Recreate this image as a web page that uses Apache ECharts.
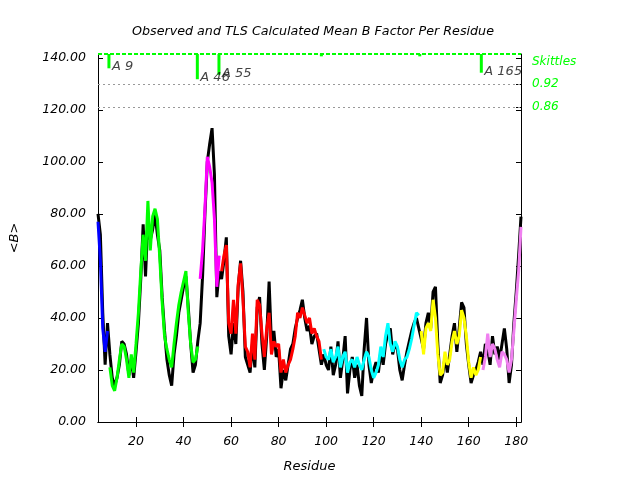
<!DOCTYPE html>
<html>
<head>
<meta charset="utf-8">
<script src="https://cdn.jsdelivr.net/npm/echarts@6/dist/echarts.min.js"></script>
<style>
  html, body { margin: 0; padding: 0; background: #fff; }
  #chart { width: 640px; height: 480px; }
</style>
</head>
<body>
<div id="chart"></div>
<script>
// residue numbers, 4..182
const residues = [
  4, 5, 6, 7, 8, 9,
  10, 11, 12, 13, 14, 15, 16, 17, 18, 19,
  20, 21, 22, 23, 24, 25, 26, 27, 28, 29,
  30, 31, 32, 33, 34, 35, 36, 37, 38, 39,
  40, 41, 42, 43, 44, 45, 46, 47, 48, 49,
  50, 51, 52, 53, 54, 55, 56, 57, 58, 59,
  60, 61, 62, 63, 64, 65, 66, 67, 68, 69,
  70, 71, 72, 73, 74, 75, 76, 77, 78, 79,
  80, 81, 82, 83, 84, 85, 86, 87, 88, 89,
  90, 91, 92, 93, 94, 95, 96, 97, 98, 99,
  100, 101, 102, 103, 104, 105, 106, 107, 108, 109,
  110, 111, 112, 113, 114, 115, 116, 117, 118, 119,
  120, 121, 122, 123, 124, 125, 126, 127, 128, 129,
  130, 131, 132, 133, 134, 135, 136, 137, 138, 139,
  140, 141, 142, 143, 144, 145, 146, 147, 148, 149,
  150, 151, 152, 153, 154, 155, 156, 157, 158, 159,
  160, 161, 162, 163, 164, 165, 166, 167, 168, 169,
  170, 171, 172, 173, 174, 175, 176, 177, 178, 179,
  180, 181, 182
];

// observed mean B (black)
const observed = [
  80, 72, 42, 22, 38, 26,
  17, 14, 17, 22, 31, 30, 26, 18, 24, 17,
  27, 38, 55, 76, 56, 78, 70, 74, 80, 72,
  66, 48, 35, 24, 18, 14, 26, 33, 42, 47,
  52, 56, 44, 30, 19, 22, 31, 38, 56, 80,
  100, 107, 113, 95, 48, 58, 55, 62, 71, 33,
  26, 38, 30, 52, 62, 50, 25, 22, 19, 30,
  21, 44, 48, 30, 20, 33, 54, 30, 35, 25,
  28, 13, 20, 16, 22, 28, 30, 36, 40, 43,
  47, 40, 35, 37, 30, 33, 34, 28, 22, 26,
  22, 20, 29, 18, 22, 31, 17, 24, 33, 11,
  20, 25, 17, 22, 14, 10, 28, 40, 22, 15,
  20, 23, 19, 27, 22, 30, 34, 36, 26, 30,
  28, 20, 16, 22, 27, 31, 35, 38, 40, 36,
  32, 28, 38, 42, 36, 50, 52, 30, 15, 18,
  25, 19, 26, 33, 38, 27, 36, 46, 44, 30,
  22, 15, 18, 20, 23, 27, 22, 30, 28, 22,
  33, 26, 29, 24, 30, 36, 28, 15, 22, 38,
  50, 64, 79
];

// TLS calculated mean B (coloured by segment)
const tlsCalc = [
  77, 62, 36, 27, 35, 21,
  14, 12, 17, 24, 30, 29, 24, 17, 26, 19,
  30, 42, 58, 72, 62, 85, 66, 79, 82, 78,
  63, 46, 33, 28, 24, 21, 30, 38, 45, 50,
  54, 58, 42, 30, 23, 24, 29, 55, 66, 82,
  102, 98, 92, 78, 52, 64, 58, 64, 68, 38,
  34, 47, 34, 53, 61, 47, 29, 27, 21, 34,
  24, 47, 45, 34, 25, 36, 42, 26, 31, 29,
  30, 19, 24, 19, 22, 24, 28, 33, 42, 40,
  44, 41, 38, 40, 34, 36, 33, 31, 24, 28,
  25, 24, 28, 23, 25, 29, 21, 25, 27, 19,
  23, 24, 21, 25, 22, 20, 24, 27, 25, 20,
  17, 19, 22, 29, 25, 33, 38, 30, 27, 31,
  29, 24, 21, 24, 25, 28, 32, 37, 42, 41,
  35, 26, 36, 38, 35, 47, 40, 26, 18, 19,
  27, 22, 24, 31, 35, 30, 33, 43, 40, 33,
  23, 17, 21, 18, 20, 25, 20, 25, 34, 25,
  30, 28, 24, 21, 27, 26, 24, 19, 24, 35,
  47, 58, 75
];

const segStart = [4, 9, 47, 56, 99, 140, 166];
const segEnd = [8, 46, 55, 98, 139, 165, 182];
const segColors = ['#0000ff', '#00ff00', '#ff00ff', '#ff0000', '#00ffff', '#ffff00', '#f080f0'];

const skittleRes = [8.6, 45.8, 54.9, 98.0, 139.4, 165.3];
const skittleBottom = [136.0, 131.8, 133.5, 140.6, 140.6, 134.3];
const skittleNames = ['A 9', 'A 46', 'A 55', '', '', 'A 165'];

const rightLabelVals = [138.6, 130.0, 121.0];
const rightLabelText = ['Skittles', '0.92', '0.86'];

const xTicks = [20, 40, 60, 80, 100, 120, 140, 160, 180];
const yTicks = [0, 20, 40, 60, 80, 100, 120, 140];
const xMin = 4, xMax = 182, yMin = 0, yMax = 141.5;

const chart = echarts.init(document.getElementById('chart'));

const font = { fontFamily: 'DejaVu Sans', fontStyle: 'italic', color: '#000' };

const segSeries = segStart.map((s, k) => ({
  type: 'line',
  z: 3,
  showSymbol: false,
  lineStyle: { color: segColors[k], width: 3 },
  data: residues
    .map((r, i) => [r, tlsCalc[i]])
    .filter(p => p[0] >= s && p[0] <= segEnd[k])
}));

const option = {
  animation: false,
  title: {
    text: 'Observed and TLS Calculated Mean B Factor Per Residue',
    left: 127,
    top: 20,
    textStyle: { ...font, fontSize: 12.7, fontWeight: 'normal' }
  },
  grid: { left: 95, right: 119, top: 54, bottom: 58 },
  xAxis: [{
    type: 'value',
    min: xMin,
    max: xMax,
    name: 'Residue',
    nameLocation: 'middle',
    nameGap: 38,
    nameTextStyle: { ...font, fontSize: 13 },
    axisLine: { lineStyle: { color: '#000', width: 1 } },
    axisTick: { inside: true, length: 5, customValues: xTicks, lineStyle: { color: '#000' } },
    axisLabel: { ...font, fontSize: 12.5, margin: 13, customValues: xTicks },
    splitLine: { show: false }
  }, {
    type: 'value',
    position: 'top',
    min: xMin,
    max: xMax,
    axisLine: { lineStyle: { color: '#000', width: 1 } },
    axisTick: { inside: true, length: 5, customValues: xTicks, lineStyle: { color: '#000' } },
    axisLabel: { show: false },
    splitLine: { show: false }
  }],
  yAxis: [{
    type: 'value',
    min: yMin,
    max: yMax,
    name: '<B>',
    nameLocation: 'middle',
    nameGap: 77,
    nameRotate: 90,
    nameTextStyle: { ...font, fontSize: 13 },
    axisLine: { show: true, lineStyle: { color: '#000', width: 1 } },
    axisTick: { show: true, inside: true, length: 5, customValues: yTicks, lineStyle: { color: '#000' } },
    axisLabel: { ...font, fontSize: 12.5, margin: 12, customValues: yTicks, formatter: v => v.toFixed(2) },
    splitLine: { show: false }
  }, {
    type: 'value',
    position: 'right',
    min: yMin,
    max: yMax,
    axisLine: { show: true, lineStyle: { color: '#000', width: 1 } },
    axisTick: { show: true, inside: true, length: 5, customValues: yTicks.concat(rightLabelVals.slice(1)), lineStyle: { color: '#000' } },
    axisLabel: {
      ...font, color: '#00ff00', fontSize: 12, margin: 11,
      customValues: rightLabelVals,
      formatter: v => rightLabelText[rightLabelVals.indexOf(v)]
    },
    splitLine: { show: false }
  }],
  series: [{
    type: 'line',
    z: 2,
    clip: false,
    showSymbol: false,
    lineStyle: { color: '#000', width: 3 },
    data: residues.map((r, i) => [r, observed[i]]),
    markLine: {
      silent: true,
      symbol: 'none',
      label: { show: false },
      data: [
        { yAxis: rightLabelVals[1], lineStyle: { color: '#999', type: [2, 3], width: 1 } },
        { yAxis: rightLabelVals[2], lineStyle: { color: '#999', type: [2, 3], width: 1 } },
        { yAxis: yMax, lineStyle: { color: '#00ff00', type: [4, 2], width: 2 } }
      ]
    }
  },
  ...segSeries,
  {
    type: 'custom',
    z: 5,
    clip: false,
    data: skittleRes.map((r, i) => [r, yMax, skittleBottom[i]]),
    encode: { x: 0, y: [1, 2] },
    renderItem: (params, api) => {
      const a = api.coord([api.value(0), api.value(1)]);
      const b = api.coord([api.value(0), api.value(2)]);
      return {
        type: 'line',
        shape: { x1: a[0], y1: a[1], x2: b[0], y2: b[1] },
        style: { stroke: '#00ff00', lineWidth: 3 }
      };
    }
  },
  {
    type: 'scatter',
    z: 6,
    clip: false,
    symbolSize: 0,
    data: skittleRes
      .map((r, i) => ({ value: [r, skittleBottom[i] + 0.6], name: skittleNames[i] }))
      .filter(d => d.name !== ''),
    label: {
      show: true,
      position: 'right',
      distance: 3,
      formatter: p => p.name,
      ...font,
      color: '#111',
      fontSize: 13
    }
  }]
};

chart.setOption(option);
</script>
</body>
</html>
